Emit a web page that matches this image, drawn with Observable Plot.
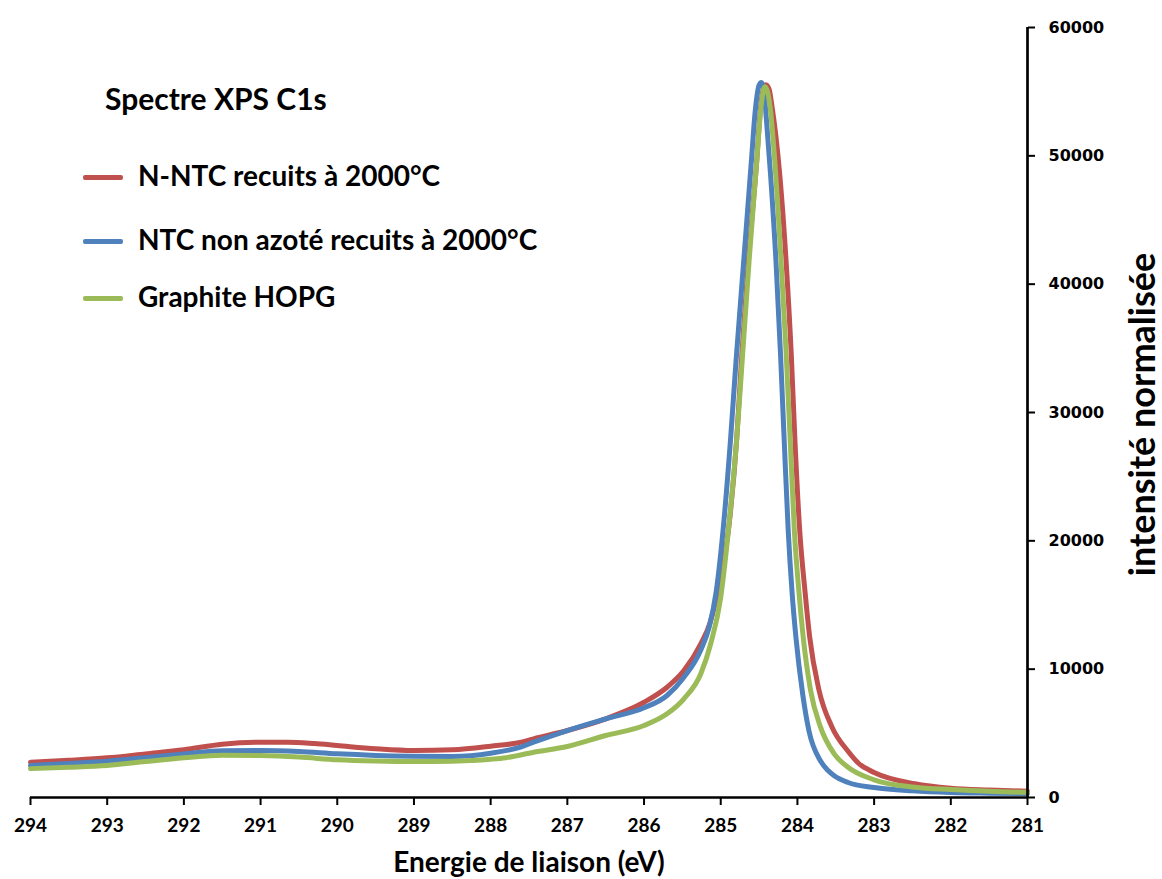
<!DOCTYPE html>
<html>
<head>
<meta charset="utf-8">
<script src="https://cdn.jsdelivr.net/npm/d3@7"></script>
<script src="https://cdn.jsdelivr.net/npm/@observablehq/plot@0.6"></script>
<style>
  html, body { margin: 0; padding: 0; background: #fff; }
  #wrap { position: relative; width: 1162px; height: 879px; font-family: Lato, "Open Sans", sans-serif; overflow: hidden; }
  #legend { position: absolute; left: 0; top: 0; }
  .ltitle { position: absolute; left: 105px; top: 80px; font-size: 30px; line-height: 1.2; font-weight: 700; white-space: nowrap; color: #000; }
  .ltext { position: absolute; left: 138px; font-size: 28px; line-height: 1.2; font-weight: 700; white-space: nowrap; color: #000; }
  .lsw { position: absolute; left: 83px; width: 40px; height: 5px; border-radius: 2px; }
</style>
</head>
<body>
<div id="wrap"><div id="chart"></div><div id="legend"></div></div>
<script>
// ---- Data ----
const chartTitle = "Spectre XPS C1s";
const seriesNames = ["N-NTC recuits à 2000°C", "NTC non azoté recuits à 2000°C", "Graphite HOPG"];
const seriesColors = ["#C0504D", "#4F81BD", "#9BBB59"];
const xLabel = "Energie de liaison (eV)";
const yLabel = "intensité normalisée";
const xTicks = [294, 293, 292, 291, 290, 289, 288, 287, 286, 285, 284, 283, 282, 281];
const yTicks = [0, 10000, 20000, 30000, 40000, 50000, 60000];

// N-NTC recuits à 2000°C
const redEnergy = [294, 293.5, 293, 292.5, 292, 291.5, 291, 290.65, 290.3, 290, 289.5, 289, 288.5, 288, 287.6, 287.44, 287, 286.5, 286, 285.7, 285.48, 285.26, 285.14, 285.04, 284.9, 284.79, 284.73, 284.64, 284.53, 284.48, 284.44, 284.41, 284.37, 284.33, 284.28, 284.23, 284.15, 284.08, 284.03, 283.97, 283.9, 283.84, 283.72, 283.55, 283.34, 283.2, 283, 282.47, 282, 281.5, 281];
const redIntensity = [2750, 2900, 3090, 3400, 3720, 4150, 4310, 4310, 4200, 4050, 3800, 3660, 3720, 4000, 4310, 4570, 5220, 6130, 7420, 8590, 9890, 11970, 13600, 16000, 20800, 28070, 34040, 41830, 49620, 53800, 55300, 55540, 55200, 53800, 51500, 48500, 42000, 34500, 27500, 20800, 16000, 12500, 8400, 5500, 3600, 2650, 1950, 1070, 720, 580, 490];

// NTC non azoté recuits à 2000°C
const blueEnergy = [294, 293.5, 293, 292.5, 292, 291.5, 291, 290.5, 290, 289.5, 289, 288.5, 288, 287.6, 287.44, 287, 286.5, 286, 285.7, 285.48, 285.26, 285.15, 285.06, 284.97, 284.87, 284.8, 284.7, 284.6, 284.55, 284.5, 284.47, 284.44, 284.4, 284.35, 284.28, 284.22, 284.17, 284.12, 284.07, 284.02, 283.93, 283.85, 283.7, 283.6, 283.52, 283.34, 283, 282.5, 282, 281.5, 281];
const blueIntensity = [2490, 2650, 2830, 3100, 3400, 3650, 3660, 3580, 3400, 3280, 3220, 3200, 3450, 3950, 4310, 5220, 6130, 6990, 7950, 9370, 11500, 13300, 16000, 20800, 28070, 34040, 41830, 49620, 53500, 55500, 55720, 55200, 52500, 48500, 41830, 34500, 27500, 20800, 16000, 12500, 8000, 5200, 2860, 2100, 1690, 1170, 780, 520, 390, 340, 310];

// Graphite HOPG
const greenEnergy = [294, 293.5, 293, 292.5, 292, 291.5, 291, 290.5, 290, 289.5, 289, 288.5, 288, 287.8, 287.44, 287, 286.5, 286, 285.7, 285.48, 285.26, 285.13, 285.0, 284.9, 284.79, 284.72, 284.63, 284.53, 284.48, 284.44, 284.42, 284.39, 284.35, 284.3, 284.22, 284.15, 284.1, 284.04, 283.98, 283.93, 283.83, 283.7, 283.52, 283.34, 283, 282.47, 282, 281.5, 281];
const greenIntensity = [2250, 2350, 2490, 2800, 3090, 3300, 3270, 3150, 2940, 2840, 2800, 2830, 2980, 3100, 3530, 3970, 4830, 5610, 6520, 7690, 9640, 12000, 15600, 20800, 28070, 34040, 41830, 49620, 53500, 55200, 55390, 55000, 53500, 50000, 42500, 35000, 28590, 20800, 16000, 12800, 8400, 5500, 3400, 2360, 1380, 800, 620, 480, 400];

// ---- Build tables ----
const series = [
  {name: seriesNames[0], e: redEnergy, i: redIntensity, color: seriesColors[0]},
  {name: seriesNames[1], e: blueEnergy, i: blueIntensity, color: seriesColors[1]},
  {name: seriesNames[2], e: greenEnergy, i: greenIntensity, color: seriesColors[2]}
];
const lines = series.map(s => Plot.line(s.e.map((e, k) => ({e, v: s.i[k]})), {
  x: "e", y: "v", stroke: s.color, strokeWidth: 5, curve: "monotone-x", strokeLinejoin: "round", strokeLinecap: "round"
}));

const chart = Plot.plot({
  width: 1162,
  height: 879,
  marginLeft: 30,
  marginRight: 135,
  marginTop: 27,
  marginBottom: 82,
  style: {background: "#fff", color: "#000"},
  x: {domain: [294, 281], ticks: xTicks, label: null},
  y: {domain: [0, 60000], ticks: yTicks, label: null},
  marks: [
    ...lines,
    Plot.ruleY([0], {stroke: "#000", strokeWidth: 2.7}),
    Plot.ruleX([281], {stroke: "#000", strokeWidth: 2.7}),
    Plot.axisX({ticks: xTicks, tickSize: 8, tickPadding: 13, strokeWidth: 2, fontSize: 19, fontWeight: "bold", fontFamily: "Lato, sans-serif", tickFormat: d => String(d), label: null}),
    Plot.axisY({anchor: "right", ticks: yTicks, tickSize: 7, tickPadding: 14, strokeWidth: 2, fontSize: 16, fontWeight: "bold", fontFamily: "DejaVu Sans, sans-serif", tickFormat: d => String(d), label: null}),
    Plot.text([yLabel], {frameAnchor: "right", rotate: -90, dx: 116, dy: 2, textAnchor: "middle", lineAnchor: "middle", fontSize: 36, fontWeight: "bold", fontFamily: "Lato, sans-serif", fill: "#000"}),
    Plot.text([xLabel], {frameAnchor: "bottom", dy: 66, textAnchor: "middle", lineAnchor: "middle", fontSize: 28, fontWeight: "bold", fontFamily: "Lato, sans-serif", fill: "#000"})
  ]
});
document.getElementById("chart").appendChild(chart);

// ---- Legend overlay ----
const legend = document.getElementById("legend");
const t = document.createElement("div");
t.className = "ltitle";
t.textContent = chartTitle;
legend.appendChild(t);
const rowCenters = [177, 241, 298];
series.forEach((s, k) => {
  const sw = document.createElement("div");
  sw.className = "lsw";
  sw.style.top = (rowCenters[k] - 2.5) + "px";
  sw.style.background = s.color;
  legend.appendChild(sw);
  const d = document.createElement("div");
  d.className = "ltext";
  d.style.top = (rowCenters[k] - 0.627 * 28) + "px";
  d.textContent = s.name;
  legend.appendChild(d);
});
</script>
</body>
</html>
